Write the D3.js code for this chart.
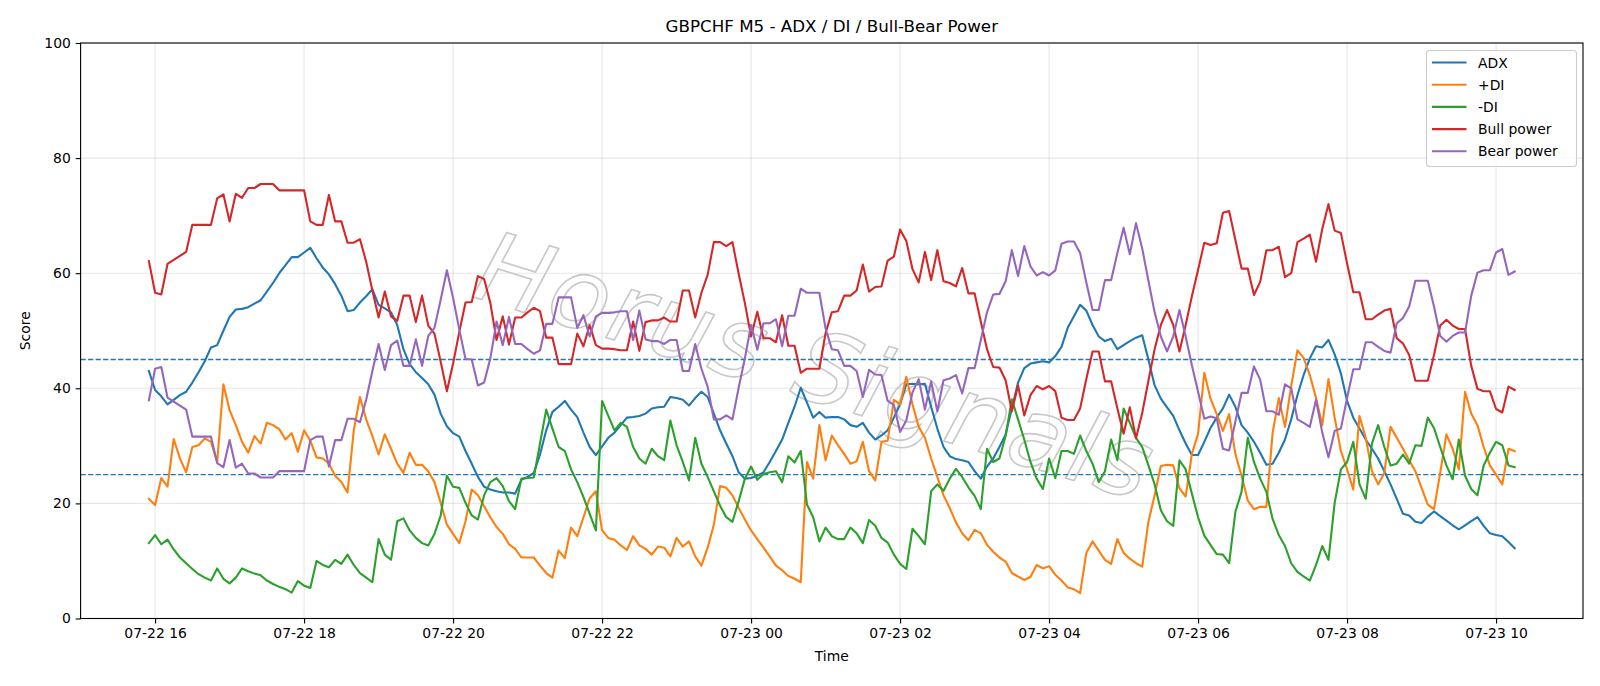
<!DOCTYPE html>
<html>
<head>
<meta charset="utf-8">
<script src="https://cdn.jsdelivr.net/npm/d3@7"></script>
<style>
  html, body { margin: 0; padding: 0; background: #fff; }
  svg { display: block; font-family: "DejaVu Sans", sans-serif; }
</style>
</head>
<body>
<svg id="chart" width="1600" height="686"></svg>
<script>
// ---------- data ----------
const startTime = "2025-07-22T15:55:00";
const stepMinutes = 5;

const adx = [43.0,39.7,38.6,37.2,38.0,38.8,39.4,41.0,42.8,44.7,47.1,47.5,50.0,52.4,53.7,53.8,54.1,54.7,55.3,56.8,58.3,60.0,61.4,62.8,62.8,63.6,64.4,62.6,61.0,59.8,58.1,56.1,53.4,53.6,54.9,56.0,57.2,54.5,53.9,53.2,51.0,46.8,44.2,42.8,41.8,40.7,38.9,35.6,33.4,32.2,31.6,29.1,26.9,24.6,22.9,22.4,22.1,21.9,21.9,21.7,24.1,24.6,25.3,28.5,32.7,35.9,36.8,37.8,36.3,35.0,32.3,29.8,28.4,29.9,31.4,32.3,33.6,34.9,35.0,35.2,35.6,36.5,36.7,36.8,38.5,38.3,38.0,37.0,38.3,39.4,38.5,35.6,32.7,30.4,28.2,25.4,24.3,24.4,24.8,25.4,27.2,29.1,31.1,34.0,36.8,40.1,37.5,34.9,35.9,34.9,35.0,35.0,34.6,33.6,33.3,34.0,32.3,31.1,31.8,32.7,34.9,37.2,40.7,40.8,40.7,40.8,36.8,33.0,29.8,28.2,27.7,27.5,27.2,25.6,24.3,26.4,27.8,29.8,32.0,36.5,41.0,43.5,44.3,44.5,44.7,44.5,45.6,47.2,50.5,52.5,54.5,53.5,51.0,49.0,48.2,48.6,46.8,47.5,48.2,48.8,49.2,45.0,40.5,38.2,36.7,35.2,32.7,30.4,28.4,28.4,30.7,33.1,34.9,36.5,38.9,36.8,33.6,32.3,30.7,28.8,26.7,26.9,28.8,31.1,34.6,38.8,42.3,45.2,47.3,47.1,48.4,45.9,42.6,37.8,34.9,33.0,31.1,29.5,27.8,25.6,23.3,20.8,18.2,17.9,16.8,16.6,17.7,18.6,17.8,17.0,16.2,15.5,16.2,16.9,17.6,16.1,14.8,14.5,14.3,13.3,12.2];

const plusDI = [20.8,19.7,24.4,22.9,31.2,27.8,25.4,29.8,30.1,31.3,30.7,27.2,40.7,36.2,33.6,30.7,28.8,31.7,30.4,34.0,33.6,32.9,31.1,32.2,29.0,32.7,30.9,28.0,27.8,26.9,24.8,23.7,21.9,32.7,38.5,34.6,31.7,28.5,32.0,29.5,26.9,25.3,28.8,26.7,26.7,25.6,23.7,20.1,16.3,14.7,13.1,16.9,22.4,21.4,19.5,17.6,15.9,14.7,12.9,12.1,10.6,10.6,10.6,9.2,7.9,7.1,11.8,10.5,15.8,14.3,17.6,20.9,22.1,15.3,14.0,13.7,12.7,11.9,14.3,12.7,12.1,11.1,12.5,12.3,10.8,14.0,12.5,13.4,10.8,9.2,12.3,16.3,23.0,22.7,21.4,19.2,17.2,15.3,13.8,12.3,10.8,9.2,8.4,7.4,6.9,6.3,27.2,24.3,33.6,27.5,31.8,30.1,28.6,26.9,27.3,30.7,25.6,24.0,30.7,30.9,38.0,37.2,42.0,37.2,33.3,31.4,27.8,24.6,21.4,19.2,16.7,14.8,13.6,15.4,14.8,12.8,11.6,10.6,9.9,7.9,7.3,6.7,7.2,9.3,8.7,9.1,7.6,6.6,5.4,5.1,4.4,11.4,13.4,11.8,10.2,9.5,13.8,11.4,10.4,9.6,9.0,16.8,21.4,26.5,26.7,26.6,22.6,21.2,28.6,32.1,42.7,38.2,35.5,32.6,35.5,28.6,24.8,20.5,19.0,19.4,19.4,32.2,38.3,33.3,40.4,46.6,45.3,42.3,38.3,33.6,41.6,34.9,29.1,25.9,22.4,35.2,31.4,25.6,23.3,25.3,33.3,31.4,29.5,27.5,25.6,22.7,19.8,19.0,25.3,32.0,29.5,25.9,39.4,35.6,33.6,29.8,26.6,25.0,23.3,29.5,29.1];

const minusDI = [13.1,14.5,12.9,13.7,12.0,10.6,9.6,8.6,7.7,7.1,6.6,8.7,6.9,6.1,7.1,8.7,8.2,7.8,7.5,6.6,6.0,5.5,5.1,4.5,6.5,5.7,5.3,10.0,9.3,8.9,10.2,9.5,11.1,9.3,7.9,7.1,6.3,13.8,11.1,10.2,16.9,17.4,15.3,14.0,13.1,12.7,14.7,17.9,24.8,22.9,22.7,20.1,17.9,17.2,21.4,23.7,24.4,23.0,20.4,19.0,24.3,24.4,24.5,30.4,36.3,33.0,29.8,29.1,25.9,23.7,21.1,18.2,15.3,37.8,35.2,32.7,34.0,33.3,29.8,27.8,26.9,29.5,28.2,27.5,34.4,30.1,27.2,24.0,31.4,26.9,24.6,22.1,19.6,17.6,16.8,20.4,24.3,26.4,24.1,25.1,25.4,25.6,23.7,28.2,27.1,29.1,19.8,17.6,13.4,15.8,14.3,13.8,13.8,15.8,14.8,13.1,17.1,16.1,14.0,13.2,11.1,9.5,8.6,15.6,14.3,12.9,22.1,23.3,22.2,24.3,26.0,24.6,22.8,21.3,19.0,29.5,27.2,27.8,31.7,38.1,34.6,31.1,27.2,24.3,22.5,27.8,24.4,29.1,29.1,28.6,31.8,29.1,26.9,23.7,25.6,31.1,27.5,36.5,34.0,31.4,29.8,26.6,23.3,18.8,16.9,16.1,27.5,25.9,21.7,17.6,14.4,12.8,11.2,11.1,9.6,18.5,22.0,31.4,27.2,24.3,22.0,17.3,14.5,12.6,9.6,8.1,7.3,6.6,9.3,12.6,10.2,20.1,25.9,27.2,30.7,23.3,20.8,30.4,33.6,29.8,26.6,26.9,28.5,26.9,30.1,30.0,34.9,33.1,29.8,26.6,24.2,31.1,24.8,22.5,21.4,26.6,28.8,30.7,30.1,26.6,26.3];

const bullPower = [62.1,56.6,56.3,61.6,62.3,63.0,63.7,68.4,68.4,68.4,68.4,73.0,73.7,69.0,73.8,73.1,74.8,74.8,75.5,75.5,75.5,74.4,74.4,74.4,74.4,74.4,69.0,68.4,68.4,73.6,69.0,69.0,65.3,65.3,65.9,62.0,57.0,52.3,56.8,52.5,51.7,56.1,56.1,51.5,56.1,50.9,49.5,44.6,39.5,44.3,49.8,54.9,55.0,59.5,59.0,54.8,48.4,52.5,47.6,52.3,52.3,53.2,54.0,53.4,48.8,48.8,44.2,44.2,44.2,49.5,47.3,51.0,47.5,46.9,46.9,46.8,46.6,46.6,51.6,46.5,51.5,51.8,51.8,52.3,51.6,51.6,57.0,57.0,52.3,56.6,59.7,65.4,65.4,64.7,65.4,59.9,54.8,49.0,53.3,48.7,48.7,48.0,52.7,47.4,47.4,42.7,43.4,43.4,43.4,49.6,53.2,53.4,56.1,56.1,57.0,61.5,56.8,57.6,57.7,62.2,62.9,67.6,65.6,60.7,58.4,63.7,58.8,64.0,58.6,58.3,57.7,60.9,56.5,56.5,51.6,46.8,43.7,43.6,41.4,36.0,40.5,35.3,38.8,40.4,39.8,40.4,39.5,34.9,34.5,34.5,36.5,41.6,46.4,46.4,41.2,41.2,36.5,32.1,36.7,31.3,35.7,41.3,46.8,51.0,53.6,51.0,46.4,51.0,56.0,60.6,65.3,64.9,65.2,70.5,70.8,65.8,60.8,60.8,56.2,58.5,64.0,64.0,64.6,59.3,60.0,65.4,66.0,66.7,62.0,67.7,72.0,67.4,67.0,61.7,56.7,56.7,52.0,52.0,52.8,53.5,53.8,48.7,47.8,45.8,41.3,41.3,41.3,45.8,50.9,51.9,50.9,50.3,50.3,43.9,39.9,39.5,39.5,36.4,35.8,40.3,39.7];

const bearPower = [37.9,43.4,43.7,38.4,37.7,37.0,36.3,31.6,31.6,31.6,31.6,27.0,26.3,31.0,26.2,26.9,25.2,25.2,24.5,24.5,24.5,25.6,25.6,25.6,25.6,25.6,31.0,31.6,31.6,26.4,31.0,31.0,34.7,34.7,34.1,38.0,43.0,47.7,43.2,47.5,48.3,43.9,43.9,48.5,43.9,49.1,50.5,55.4,60.5,55.7,50.2,45.1,45.0,40.5,41.0,45.2,51.6,47.5,52.4,47.7,47.7,46.8,46.0,46.6,51.2,51.2,55.8,55.8,55.8,50.5,52.7,49.0,52.5,53.1,53.1,53.2,53.4,53.4,48.4,53.5,48.5,48.2,48.2,47.7,48.4,48.4,43.0,43.0,47.7,43.4,40.3,34.6,34.6,35.3,34.6,40.1,45.2,51.0,46.7,51.3,51.3,52.0,47.3,52.6,52.6,57.3,56.6,56.6,56.6,50.4,46.8,46.6,43.9,43.9,43.0,38.5,43.2,42.4,42.3,37.8,37.1,32.4,34.4,39.3,41.6,36.3,41.2,36.0,41.4,41.7,42.3,39.1,43.5,43.5,48.4,53.2,56.3,56.4,58.6,64.0,59.5,64.7,61.2,59.6,60.2,59.6,60.5,65.1,65.5,65.5,63.5,58.4,53.6,53.6,58.8,58.8,63.5,67.9,63.3,68.7,64.3,58.7,53.2,49.0,46.4,49.0,53.6,49.0,44.0,39.4,34.7,35.1,34.8,29.5,29.2,34.2,39.2,39.2,43.8,41.5,36.0,36.0,35.4,40.7,40.0,34.6,34.0,33.3,38.0,32.3,28.0,32.6,33.0,38.3,43.3,43.3,48.0,48.0,47.2,46.5,46.2,51.3,52.2,54.2,58.7,58.7,58.7,54.2,49.1,48.1,49.1,49.7,49.7,56.1,60.1,60.5,60.5,63.6,64.2,59.7,60.3];

const seriesNames = ["ADX", "+DI", "-DI", "Bull power", "Bear power"];
const seriesColors = ["#1f77b4", "#ff7f0e", "#2ca02c", "#d62728", "#9467bd"];
const thresholds = [45, 25];
const yTicks = [0, 20, 40, 60, 80, 100];
const xTickHours = 2;

const chartTitle = "GBPCHF M5 - ADX / DI / Bull-Bear Power";
const xLabel = "Time";
const yLabel = "Score";
const watermark = "Horus Signals";

// ---------- layout ----------
const W = 1600, H = 686;
const plot = { left: 80.6, right: 1583, top: 43, bottom: 618.5 };

const svg = d3.select("#chart");
svg.append("rect").attr("width", W).attr("height", H).attr("fill", "#fff");

const t0 = d3.isoParse(startTime);
const times = adx.map((_, i) => d3.timeMinute.offset(t0, i * stepMinutes));
const tMin = times[0], tMax = times[times.length - 1];
const span = tMax - tMin;
const x = d3.scaleTime()
  .domain([new Date(+tMin - span * 0.05), new Date(+tMax + span * 0.05)])
  .range([plot.left, plot.right]);
const y = d3.scaleLinear().domain([0, 100]).range([plot.bottom, plot.top]);

const xTickVals = d3.timeHour.every(xTickHours).range(x.domain()[0], x.domain()[1]);
const fmt = d3.timeFormat("%m-%d %H");

// grid
const grid = svg.append("g");
grid.selectAll("line.gx").data(xTickVals).join("line")
  .attr("x1", d => x(d)).attr("x2", d => x(d))
  .attr("y1", plot.top).attr("y2", plot.bottom)
  .attr("stroke", "#b0b0b0").attr("stroke-opacity", 0.3).attr("stroke-width", 1.1);
grid.selectAll("line.gy").data(yTicks).join("line")
  .attr("x1", plot.left).attr("x2", plot.right)
  .attr("y1", d => y(d)).attr("y2", d => y(d))
  .attr("stroke", "#b0b0b0").attr("stroke-opacity", 0.3).attr("stroke-width", 1.1);

// watermark (faint thin outline, behind the lines)
svg.append("text")
  .attr("transform", "translate(470,296) rotate(17)")
  .attr("font-family", "DejaVu Sans")
  .attr("font-style", "italic")
  .attr("font-size", 98)
  .attr("fill", "none")
  .attr("stroke", "#c8c8c8")
  .attr("stroke-width", 1.6)
  .attr("textLength", 700)
  .attr("lengthAdjust", "spacing")
  .text(watermark);

// threshold lines
svg.selectAll("line.th").data(thresholds).join("line")
  .attr("x1", plot.left).attr("x2", plot.right)
  .attr("y1", d => y(d)).attr("y2", d => y(d))
  .attr("stroke", "#1f77b4").attr("stroke-width", 1.4)
  .attr("stroke-dasharray", "5.2,2.3");

// series
const allSeries = [adx, plusDI, minusDI, bullPower, bearPower];
const line = d3.line().x((d, i) => x(times[i])).y(d => y(d));
const clipId = "plotclip";
svg.append("clipPath").attr("id", clipId).append("rect")
  .attr("x", plot.left).attr("y", plot.top)
  .attr("width", plot.right - plot.left).attr("height", plot.bottom - plot.top);
const lines = svg.append("g").attr("clip-path", `url(#${clipId})`);
allSeries.forEach((s, k) => {
  lines.append("path").datum(s)
    .attr("d", line)
    .attr("fill", "none")
    .attr("stroke", seriesColors[k])
    .attr("stroke-width", 2.1)
    .attr("stroke-linejoin", "round")
    .attr("stroke-linecap", "square");
});

// axes
const xAxis = d3.axisBottom(x).tickValues(xTickVals).tickFormat(fmt).tickSize(4.9).tickPadding(4.9);
const yAxis = d3.axisLeft(y).tickValues(yTicks).tickSize(4.9).tickPadding(4.9);
const gx = svg.append("g").attr("transform", `translate(0,${plot.bottom})`).call(xAxis);
const gy = svg.append("g").attr("transform", `translate(${plot.left},0)`).call(yAxis);
[gx, gy].forEach(g => {
  g.select(".domain").remove();
  g.selectAll("line").attr("stroke", "#000").attr("stroke-width", 1.1);
  g.selectAll("text").attr("fill", "#000").attr("font-size", 13.9).attr("font-family", "DejaVu Sans");
});

// spines
svg.append("rect")
  .attr("x", plot.left).attr("y", plot.top)
  .attr("width", plot.right - plot.left).attr("height", plot.bottom - plot.top)
  .attr("fill", "none").attr("stroke", "#000").attr("stroke-width", 1.1);

// labels
svg.append("text").attr("x", (plot.left + plot.right) / 2).attr("y", 31.5)
  .attr("text-anchor", "middle").attr("font-size", 16.7).attr("fill", "#000").text(chartTitle);
svg.append("text").attr("x", (plot.left + plot.right) / 2).attr("y", 661)
  .attr("text-anchor", "middle").attr("font-size", 13.9).attr("fill", "#000").text(xLabel);
svg.append("text")
  .attr("transform", `translate(30,${(plot.top + plot.bottom) / 2}) rotate(-90)`)
  .attr("text-anchor", "middle").attr("font-size", 13.9).attr("fill", "#000").text(yLabel);

// legend
const lg = svg.append("g");
const lgX = 1426.5, lgY = 50.5, lgW = 150, lgH = 116;
lg.append("rect").attr("x", lgX).attr("y", lgY).attr("width", lgW).attr("height", lgH)
  .attr("rx", 3).attr("fill", "#fff").attr("fill-opacity", 0.8)
  .attr("stroke", "#cccccc").attr("stroke-width", 1.1);
seriesNames.forEach((name, k) => {
  const cy = 62.5 + k * 22.2;
  lg.append("line").attr("x1", lgX + 5.5).attr("x2", lgX + 40)
    .attr("y1", cy).attr("y2", cy)
    .attr("stroke", seriesColors[k]).attr("stroke-width", 2.1);
  lg.append("text").attr("x", lgX + 51.5).attr("y", cy + 5)
    .attr("font-size", 13.9).attr("fill", "#000").text(name);
});
</script>
</body>
</html>
